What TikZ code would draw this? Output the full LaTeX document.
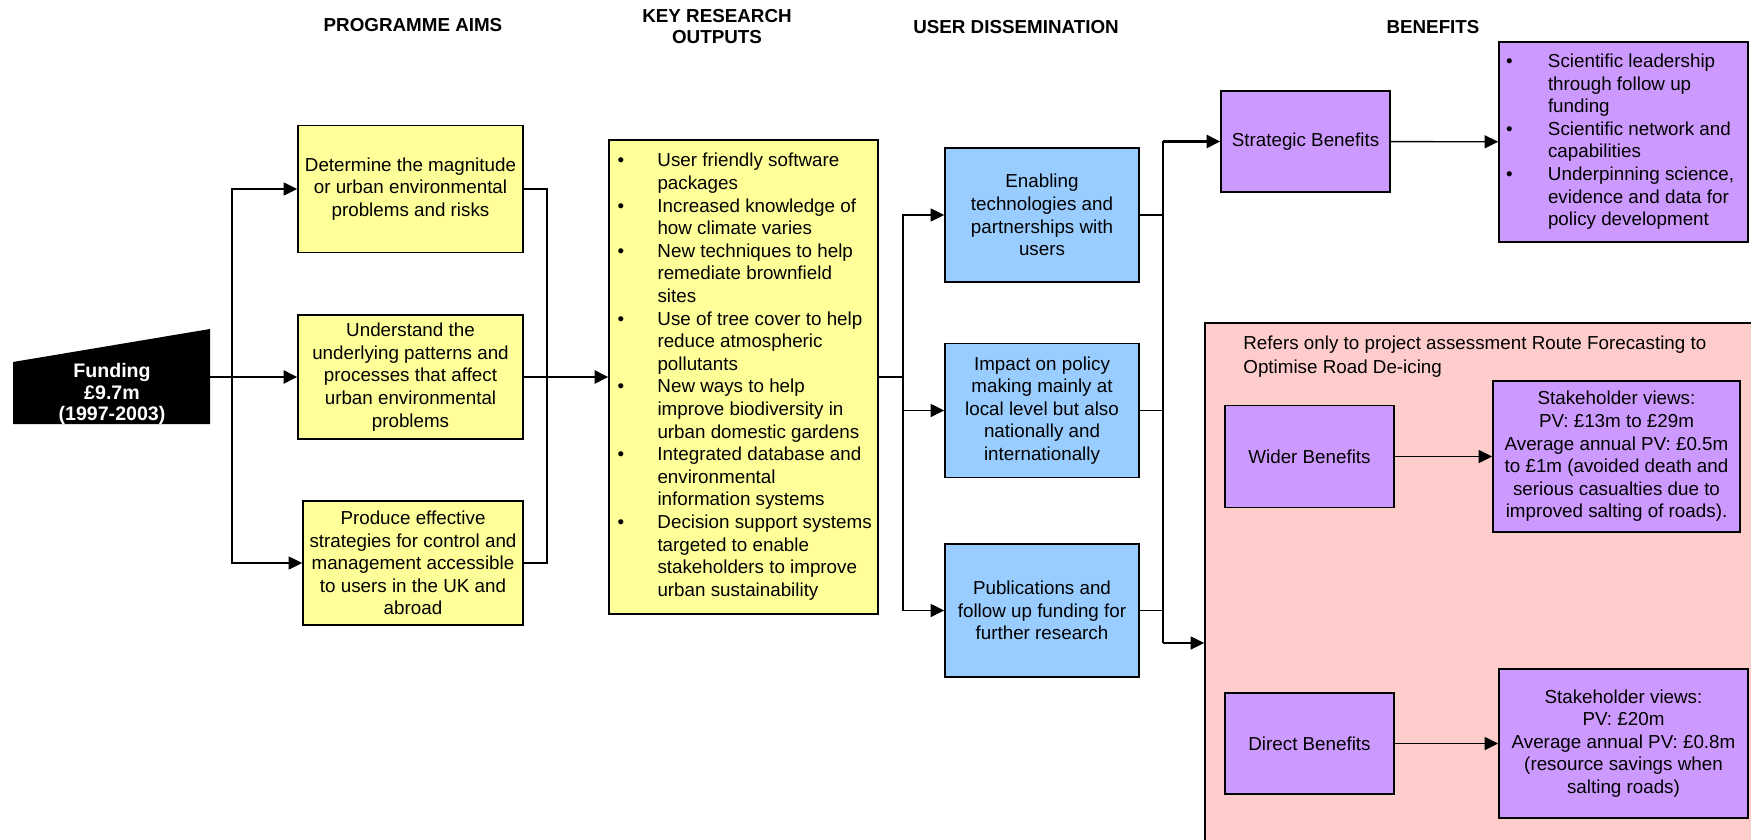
\documentclass[tikz,border=0pt]{standalone}
\usepackage{fontspec}
\setmainfont{Liberation Sans}
\usetikzlibrary{arrows.meta}
\definecolor{aimyellow}{HTML}{FFFF99}
\definecolor{dissblue}{HTML}{99CCFF}
\definecolor{benpurple}{HTML}{CC99FF}
\definecolor{casepink}{HTML}{FFCCCC}
\newcommand\boxfont{\fontsize{9.4}{11.3}\selectfont}
\newcommand\headfont{\fontsize{9.4}{10.5}\selectfont\bfseries}

\begin{document}
\begin{tikzpicture}[x=0.5pt, y=-0.5pt,
    box/.style={draw, line width=0.8pt, align=center, inner sep=2pt, font=\boxfont},
    aimbox/.style={box, fill=aimyellow},
    dissbox/.style={box, fill=dissblue},
    benbox/.style={box, fill=benpurple},
    head/.style={align=center, font=\headfont},
    wire/.style={line width=0.7pt},
    mainwire/.style={line width=1.3pt},
    arr/.style={wire, -{Triangle[length=6.8pt,width=6.5pt]}}]

    \useasboundingbox (0,0) rectangle (1751,840);
    \clip (0,0) rectangle (1751,840);

    % Column headings
    \node[head] (hAims) at (413,25) {PROGRAMME AIMS};
    \node[head] (hOut) at (717,26.5) {KEY RESEARCH\\OUTPUTS};
    \node[head] (hDiss) at (1016,27) {USER DISSEMINATION};
    \node[head] (hBen) at (1433,27) {BENEFITS};

    % Funding
    \fill (13,362) -- (210,329) -- (210,424) -- (13,424) -- cycle;
    \node[white, align=center, font=\fontsize{9.8}{10.8}\selectfont\bfseries] (fund) at (112,394) {Funding\\£9.7m\\(1997-2003)};
    \coordinate (fundOut) at (210,377);

    % Programme aims
    \node[aimbox, minimum width=112.5pt, minimum height=63.5pt] (aim1) at (410.5,189)
        {Determine the magnitude\\or urban environmental\\problems and risks};
    \node[aimbox, minimum width=112.5pt, minimum height=62pt] (aim2) at (410.5,377)
        {Understand the\\underlying patterns and\\processes that affect\\urban environmental\\problems};
    \node[aimbox, minimum width=110pt, minimum height=62pt] (aim3) at (413,563)
        {Produce effective\\strategies for control and\\management accessible\\to users in the UK and\\abroad};

    % Key research outputs
    \node[aimbox, minimum width=134.5pt, minimum height=237pt] (outputs) at (743.5,377)
        {\makebox[126pt][l]{\begin{tabular}{@{}p{20pt}@{}l@{}}
        \textbullet & User friendly software\\
                    & packages\\
        \textbullet & Increased knowledge of\\
                    & how climate varies\\
        \textbullet & New techniques to help\\
                    & remediate brownfield\\
                    & sites\\
        \textbullet & Use of tree cover to help\\
                    & reduce atmospheric\\
                    & pollutants\\
        \textbullet & New ways to help\\
                    & improve biodiversity in\\
                    & urban domestic gardens\\
        \textbullet & Integrated database and\\
                    & environmental\\
                    & information systems\\
        \textbullet & Decision support systems\\
                    & targeted to enable\\
                    & stakeholders to improve\\
                    & urban sustainability
        \end{tabular}}};

    % User dissemination
    \node[dissbox, minimum width=97pt, minimum height=67pt] (diss1) at (1042,215)
        {Enabling\\technologies and\\partnerships with\\users};
    \node[dissbox, minimum width=97pt, minimum height=67pt] (diss2) at (1042,410.5)
        {Impact on policy\\making mainly at\\local level but also\\nationally and\\internationally};
    \node[dissbox, minimum width=97pt, minimum height=66.5pt] (diss3) at (1042,610.5)
        {Publications and\\follow up funding for\\further research};

    % Benefits
    \node[benbox, minimum width=84.5pt, minimum height=50.5pt] (strat) at (1305.5,141.5) {Strategic Benefits};
    \node[benbox, minimum width=124.5pt, minimum height=100pt] (stratList) at (1623.5,142)
        {\makebox[117.5pt][l]{\begin{tabular}{@{}p{21pt}@{}l@{}}
        \textbullet & Scientific leadership\\
                    & through follow up\\
                    & funding\\
        \textbullet & Scientific network and\\
                    & capabilities\\
        \textbullet & Underpinning science,\\
                    & evidence and data for\\
                    & policy development
        \end{tabular}}};

    % Project assessment panel
    \node[draw, line width=0.8pt, fill=casepink, minimum width=297.5pt, minimum height=288.5pt] (pink) at (1502.5,611.5) {};
    \node[anchor=north west, inner sep=0pt, align=left, font=\fontsize{9.4}{12}\selectfont] (caseNote) at (1243,335)
        {Refers only to project assessment Route Forecasting to\\Optimise Road De-icing};
    \node[benbox, minimum width=84.5pt, minimum height=51pt] (wider) at (1309.5,456.5) {Wider Benefits};
    \node[benbox, minimum width=123.5pt, minimum height=75.5pt] (stake1) at (1616.5,456.5)
        {Stakeholder views:\\PV: £13m to £29m\\Average annual PV: £0.5m\\to £1m (avoided death and\\serious casualties due to\\improved salting of roads).};
    \node[benbox, minimum width=84.5pt, minimum height=50.5pt] (direct) at (1309.5,743.5) {Direct Benefits};
    \node[benbox, minimum width=124.5pt, minimum height=74.5pt] (stake2) at (1623.5,743.5)
        {Stakeholder views:\\PV: £20m\\Average annual PV: £0.8m\\(resource savings when\\salting roads)};

    % Funding to aims to outputs
    \coordinate (splitA) at (232,377);
    \coordinate (joinA) at (547,377);
    \draw[mainwire] (fundOut) -- (splitA);
    \draw[arr] (splitA) |- (aim1);
    \draw[arr, mainwire] (splitA) -- (aim2);
    \draw[arr] (splitA) |- (aim3);
    \draw[wire] (aim1) -| (joinA);
    \draw[wire] (aim3) -| (joinA);
    \draw[mainwire] (aim2) -- (joinA);
    \draw[arr, mainwire] (joinA) -- (outputs);

    % Outputs to dissemination
    \coordinate (splitB) at (903,377);
    \draw[mainwire] (outputs) -- (splitB);
    \draw[arr] (splitB) |- (diss1);
    \draw[arr] (splitB) |- (diss2);
    \draw[arr] (splitB) |- (diss3);

    % Dissemination to benefits
    \coordinate (joinTop) at (1163,141.5);
    \coordinate (joinBot) at (1163,643);
    \draw[wire] (diss1) -- (diss1 -| joinTop);
    \draw[wire] (diss2) -- (diss2 -| joinTop);
    \draw[wire] (diss3) -- (diss3 -| joinTop);
    \draw[mainwire] (joinTop) -- (joinBot);
    \draw[arr, mainwire] (joinTop) -- (strat);
    \draw[arr] (joinBot) -- (joinBot -| pink.west);

    % Benefit details
    \draw[arr] (strat) -- (stratList);
    \draw[arr] (wider) -- (stake1);
    \draw[arr] (direct) -- (stake2);

\end{tikzpicture}
\end{document}
